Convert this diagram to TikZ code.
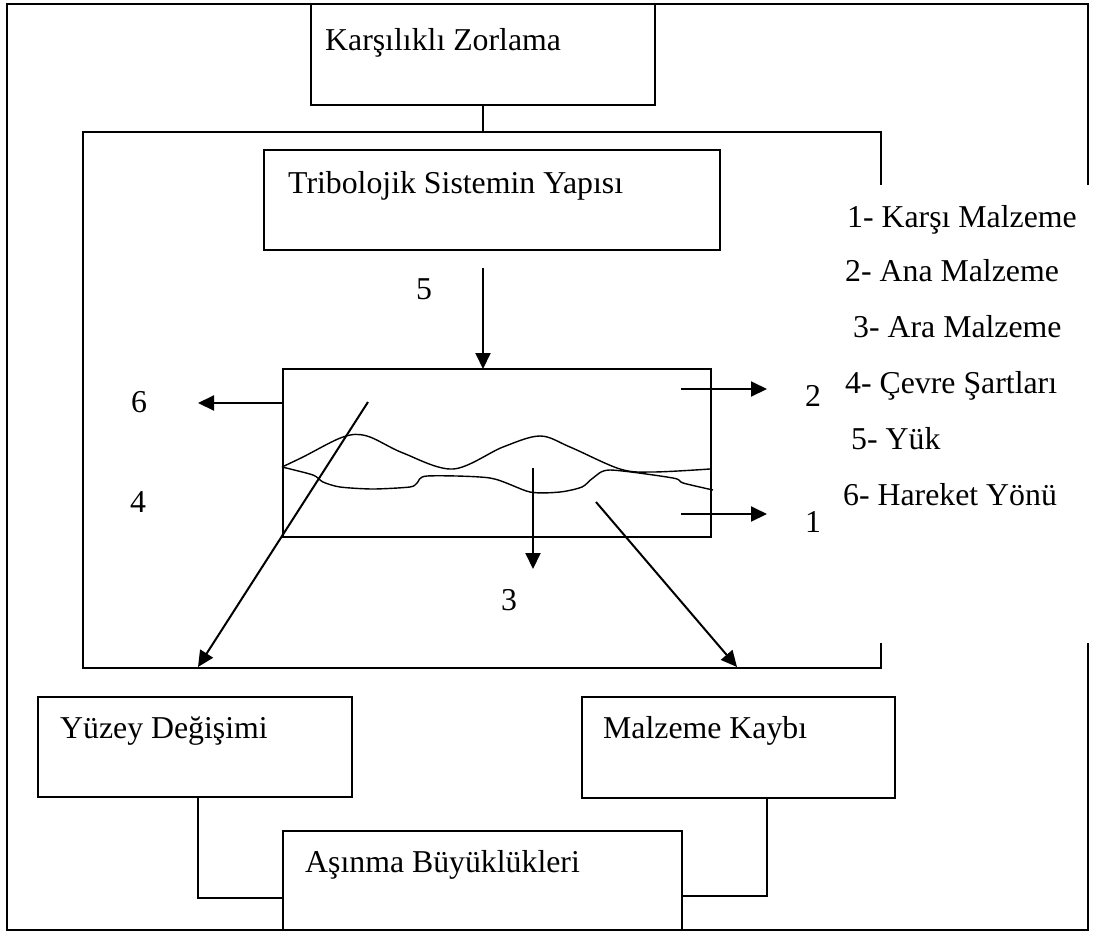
\documentclass[tikz,border=0pt]{standalone}
\usepackage{fontspec}
\setmainfont{Liberation Serif}
\usetikzlibrary{arrows.meta}
\tikzset{
  every picture/.style={x=1pt,y=-1pt},
  line/.style={line width=1.8pt},
  box/.style={draw,line width=1.8pt,inner sep=0pt,outer sep=0pt,anchor=north west},
  txt/.style={anchor=base west,inner sep=0pt,font=\fontsize{31.8}{38}\selectfont},
  num/.style={anchor=center,inner sep=0pt,font=\fontsize{31.8}{38}\selectfont},
  arr/.style={line width=2pt,-{Triangle[length=16pt,width=15pt]}},
  wave/.style={line width=1.4pt}
}
\begin{document}
\begin{tikzpicture}
\useasboundingbox (0,0) rectangle (1093,932);
% outer frame with gap on the right
\draw[line] (1088,185) -- (1088,4) -- (7,4) -- (7,930) -- (1088,930) -- (1088,643);
% inner frame with gap on the right
\draw[line] (881,185) -- (881,132) -- (83,132) -- (83,668) -- (881,668) -- (881,643);
\coordinate (innertop) at (483,132);

% boxes
\node[box,minimum width=344pt,minimum height=101pt] (kz) at (311,4) {};
\node[box,minimum width=456pt,minimum height=100pt] (tsy) at (264,150) {};
\node[box,minimum width=428pt,minimum height=168pt] (mech) at (283,369) {};
\node[box,minimum width=314pt,minimum height=100pt] (yd) at (38,697) {};
\node[box,minimum width=313pt,minimum height=101pt] (mk) at (582,697) {};
\node[box,minimum width=399pt,minimum height=99pt] (ab) at (283,831) {};

% texts in boxes
\node[txt] (tkz) at (325,50) {Karşılıklı Zorlama};
\node[txt] (ttsy) at (288,193) {Tribolojik Sistemin Yapısı};
\node[txt] (tyd) at (60,738) {Yüzey Değişimi};
\node[txt] (tmk) at (603,738) {Malzeme Kaybı};
\node[txt] (tab) at (305,872) {Aşınma Büyüklükleri};

% legend
\node[txt] (l1) at (847,227) {1- Karşı Malzeme};
\node[txt] (l2) at (845,281) {2- Ana Malzeme};
\node[txt] (l3) at (853,337) {3- Ara Malzeme};
\node[txt] (l4) at (845,393) {4- Çevre Şartları};
\node[txt] (l5) at (851,449) {5- Yük};
\node[txt] (l6) at (843,505) {6- Hareket Yönü};

% number labels
\node[num] (n5) at (424,289) {5};
\node[num] (n6) at (139,402) {6};
\node[num] (n4) at (138,502) {4};
\node[num] (n2) at (813,396) {2};
\node[num] (n1) at (813,522) {1};
\node[num] (n3) at (509,600) {3};

% connectors
\draw[line] (kz.south) -- (innertop);
\coordinate (a5s) at (483,268);
\draw[arr] (a5s) -- (a5s |- mech.north);
\coordinate (a6s) at (283,403);
\coordinate (a6e) at (198,403);
\draw[arr] (a6s) -- (a6e);
\coordinate (a2s) at (681,389);
\coordinate (a2e) at (767,389);
\draw[arr] (a2s) -- (a2e);
\coordinate (a1s) at (681,514);
\coordinate (a1e) at (767,514);
\draw[arr] (a1s) -- (a1e);
\coordinate (a3s) at (533,468);
\coordinate (a3e) at (533,569);
\draw[arr] (a3s) -- (a3e);
\coordinate (d1s) at (368,402);
\coordinate (d1e) at (198,667);
\draw[arr] (d1s) -- (d1e);
\coordinate (d2s) at (596,502);
\coordinate (d2e) at (737,667);
\draw[arr] (d2s) -- (d2e);

\draw[line] (yd.south -| 198,0) -- (198,898) -- (ab.west |- 0,898);
\draw[line] (mk.south -| 767,0) -- (767,896) -- (ab.east |- 0,896);

% wavy surfaces
\draw[wave] plot[smooth,tension=0.55] coordinates {(282,467) (303,457) (343,437) (367,436) (403,453) (453,469) (503,447) (540,436) (570,447) (620,469) (653,472) (710,469)};
\draw[wave] plot[smooth,tension=0.45] coordinates {(282,467) (313,475) (323,482) (340,487) (373,489) (410,487) (417,483) (427,476) (490,478) (530,492) (560,492) (582,487) (593,478) (610,470) (673,478) (683,483) (713,490)};
\end{tikzpicture}
\end{document}
